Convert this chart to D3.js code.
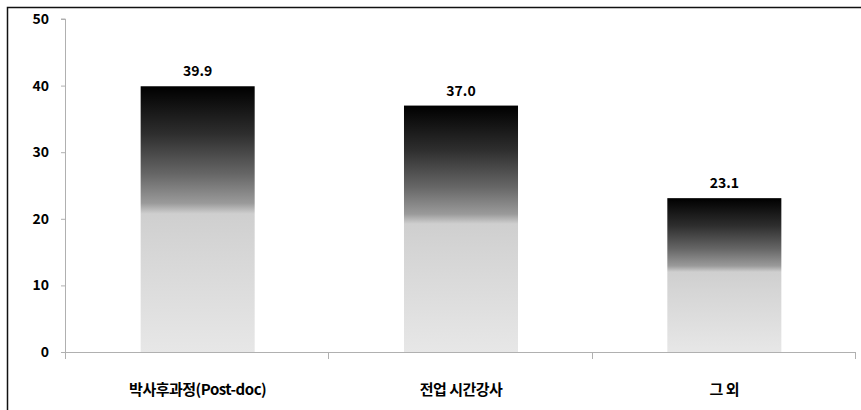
<!DOCTYPE html>
<html><head><meta charset="utf-8">
<script src="https://cdn.jsdelivr.net/npm/d3@7"></script>
<style>
html,body{margin:0;padding:0;background:#fff;}
svg{display:block;}
text{font-family:"Noto Sans CJK KR","Noto Sans",sans-serif;}
</style></head>
<body>
<script>
const categories = ["박사후과정(Post-doc)", "전업 시간강사", "그 외"];
const values = [39.9, 37.0, 23.1];
const yTicks = [0, 10, 20, 30, 40, 50];

const W = 861, H = 410;
const margin = {left: 66, right: 5, top: 19, bottom: 58};
const svg = d3.select("body").append("svg").attr("width", W).attr("height", H);

// frame
svg.append("rect").attr("x", 7.5).attr("y", 7.5).attr("width", W + 10).attr("height", H + 10)
  .attr("fill", "none").attr("stroke", "#111").attr("stroke-width", 1.5);

const x = d3.scaleBand().domain(categories).range([66, 856]).paddingInner(0.567).paddingOuter(0.2835);
const y = d3.scaleLinear().domain([0, 50]).range([352, 19]);

const defs = svg.append("defs");
const grad = defs.append("linearGradient").attr("id", "barGrad")
  .attr("x1", 0).attr("y1", 0).attr("x2", 0).attr("y2", 1);
[[0, "#000000"], [0.18, "#2e2e2e"], [0.33, "#666666"], [0.44, "#9a9a9a"], [0.48, "#cfcfcf"], [0.6, "#d5d5d5"], [1, "#e7e7e7"]]
  .forEach(([o, c]) => grad.append("stop").attr("offset", o).attr("stop-color", c));

// y axis
const yAxis = svg.append("g").attr("transform", "translate(66,0)")
  .call(d3.axisLeft(y).tickValues(yTicks).tickSize(5).tickPadding(12).tickFormat(d3.format("d")));
yAxis.select(".domain").attr("stroke", "#b0b0b0").attr("d", "M-0.5," + y(0) + "V" + y(50) + "H-5");
yAxis.selectAll(".tick line").attr("stroke", "#b0b0b0");
yAxis.selectAll("text").attr("font-size", 14).attr("font-weight", "bold").attr("fill", "#000")
  .style("font-family", '"Liberation Sans Narrow","Noto Sans CJK KR",sans-serif');

// x axis line & boundary ticks
const xg = svg.append("g");
xg.append("line").attr("x1", 66).attr("x2", 856).attr("y1", y(0) + 0.5).attr("y2", y(0) + 0.5)
  .attr("stroke", "#b0b0b0");
const bounds = categories.map(c => x(c) - x.step() * x.paddingInner() / 2 - (x.step() * (x.paddingOuter() - x.paddingInner() / 2)) * 0);
const step = x.step();
for (let i = 0; i <= categories.length; i++) {
  const bx = Math.round(66 + i * step);
  xg.append("line").attr("x1", bx - 0.5).attr("x2", bx - 0.5).attr("y1", y(0)).attr("y2", y(0) + 7)
    .attr("stroke", "#b0b0b0");
}

// bars
svg.selectAll("rect.bar").data(values).join("rect").attr("class", "bar")
  .attr("x", (d, i) => x(categories[i])).attr("width", x.bandwidth())
  .attr("y", d => y(d)).attr("height", d => y(0) - y(d))
  .attr("fill", "url(#barGrad)");

// value labels
svg.selectAll("text.val").data(values).join("text").attr("class", "val")
  .attr("x", (d, i) => x(categories[i]) + x.bandwidth() / 2).attr("y", d => y(d) - 10)
  .attr("text-anchor", "middle").attr("font-size", 14).attr("font-weight", "bold")
  .style("font-family", '"Liberation Sans Narrow","Noto Sans CJK KR",sans-serif')
  .text(d => d.toFixed(1));

// category labels
svg.selectAll("text.cat").data(categories).join("text").attr("class", "cat")
  .attr("x", d => x(d) + x.bandwidth() / 2).attr("y", 395)
  .attr("text-anchor", "middle").attr("font-size", 15).attr("font-weight", "bold")
  .attr("letter-spacing", -0.5)
  .text(d => d);
</script>
</body></html>
